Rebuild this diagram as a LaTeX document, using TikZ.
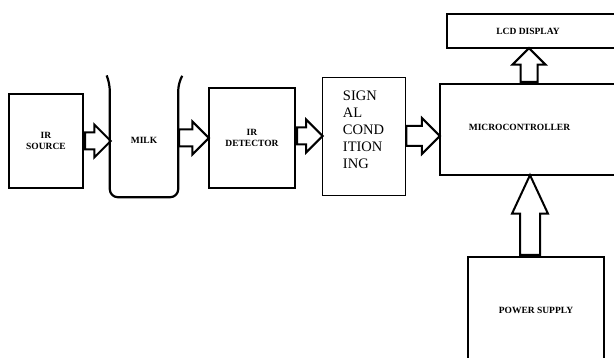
\documentclass[tikz,border=0pt]{standalone}
\usepackage{fontspec}
\setmainfont{Liberation Serif}
\usetikzlibrary{shapes.arrows, calc, positioning}
\tikzstyle{lbl} = [font=\fontsize{9.5}{11}\selectfont\bfseries, align=center]
\tikzstyle{block} = [rectangle, draw, line width=2.2pt, lbl]
\tikzstyle{sigtxt} = [font=\fontsize{14.5}{17}\selectfont, align=left]
\tikzstyle{fatarrow} = [single arrow, draw, line width=2pt, inner sep=7.5pt, single arrow head extend=8pt, single arrow tip angle=90, anchor=tail]
% block arrow from one anchor to another
\newcommand{\fatarrow}[3][]{%
  \path let \p1=($(#3)-(#2)$), \n1={veclen(\x1,\y1)}, \n2={atan2(\y1,\x1)} in
    (#2) node[fatarrow, minimum height=\n1, rotate=\n2, #1] {};}

\begin{document}
\begin{tikzpicture}[x=1pt, y=-1pt]
    \useasboundingbox (0,0) rectangle (614,358);
    \clip (0,0) rectangle (614,358);

    % Nodes
    \node (src) [block, minimum width=74, minimum height=94] at (46,141) {IR\\SOURCE};
    \node (milk) [lbl, minimum width=68, minimum height=114] at (144,140) {MILK};
    \node (det) [block, minimum width=86, minimum height=100] at (252,138) {IR\\DETECTOR};
    \node (sig) [rectangle, draw, line width=0.9pt, minimum width=83, minimum height=118,
        label={[sigtxt, yshift=6pt]center:SIGN\\AL\\COND\\ITION\\ING}] at (363.5,136) {};
    \node (mcu) [block, minimum width=200, minimum height=91,
        label={[lbl, xshift=-20.5pt, yshift=2pt]center:MICROCONTROLLER}] at (540,129.5) {};
    \node (lcd) [block, minimum width=193, minimum height=34,
        label={[lbl, xshift=-15.5pt]center:LCD DISPLAY}] at (543.5,31) {};
    \node (ps) [block, minimum width=136, minimum height=106] at (536,310) {POWER SUPPLY};
    \coordinate (upx) at (529,0);
    \coordinate (pwx) at (530,0);

    % Beaker
    \draw[line width=2.2pt, rounded corners=8pt] ([shift={(-3,-7)}]milk.north west) -- (milk.north west)
        -- (milk.south west) -- (milk.south east) -- (milk.north east) -- ++(4,-7);

    % Arrows
    \fatarrow{src.east}{milk.west |- src.east}
    \fatarrow{milk.east |- det.west}{det.west}
    \fatarrow{det.east |- sig.west}{sig.west}
    \fatarrow[inner sep=9pt]{sig.east}{mcu.west |- sig.east}
    \fatarrow{mcu.north -| upx}{lcd.south -| upx}
    \fatarrow[inner sep=9pt, single arrow tip angle=50]{ps.north -| pwx}{mcu.south -| pwx}
\end{tikzpicture}
\end{document}
